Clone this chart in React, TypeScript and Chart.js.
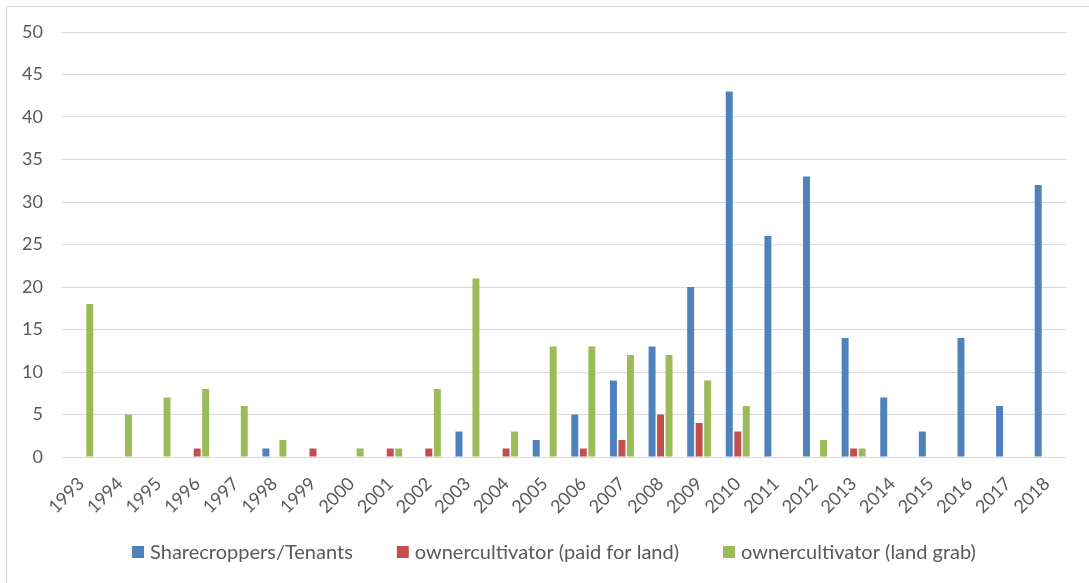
import React, { useEffect, useRef } from "react";
import { Chart, registerables } from "chart.js";

Chart.register(...registerables);

const years = [
  "1993", "1994", "1995", "1996", "1997", "1998", "1999", "2000", "2001", "2002",
  "2003", "2004", "2005", "2006", "2007", "2008", "2009", "2010", "2011", "2012",
  "2013", "2014", "2015", "2016", "2017", "2018",
];

const sharecroppers = [0, 0, 0, 0, 0, 1, 0, 0, 0, 0, 3, 0, 2, 5, 9, 13, 20, 43, 26, 33, 14, 7, 3, 14, 6, 32];
const paidForLand = [0, 0, 0, 1, 0, 0, 1, 0, 1, 1, 0, 1, 0, 1, 2, 5, 4, 3, 0, 0, 1, 0, 0, 0, 0, 0];
const landGrab = [18, 5, 7, 8, 6, 2, 0, 1, 1, 8, 21, 3, 13, 13, 12, 12, 9, 6, 0, 2, 1, 0, 0, 0, 0, 0];

const seriesNames = [
  "Sharecroppers/Tenants",
  "ownercultivator (paid for land)",
  "ownercultivator (land grab)",
];
const seriesColors = ["#4f81bd", "#c0504d", "#9bbb59"];

const yTicks = { min: 0, max: 50, step: 5 };

const FONT = "Lato, 'Open Sans', sans-serif";
const TEXT = "#595959";

const legendPlugin = {
  id: "bottomLegend",
  afterDraw(chart: any) {
    const ctx = chart.ctx;
    ctx.save();
    ctx.font = `20px ${FONT}`;
    ctx.fillStyle = TEXT;
    ctx.textBaseline = "middle";
    ctx.textAlign = "left";
    const box = 12;
    const gapText = 6;
    const gapItem = 44;
    const items = chart.data.datasets.map((d: any) => ({
      label: d.label,
      color: d.backgroundColor,
      w: box + gapText + ctx.measureText(d.label).width,
    }));
    const total = items.reduce((a: number, it: any) => a + it.w, 0) + gapItem * (items.length - 1);
    const cx = 547;
    const cy = 545;
    let x = cx - total / 2;
    for (const it of items) {
      ctx.fillStyle = it.color;
      ctx.fillRect(x, cy - box / 2, box, box);
      ctx.fillStyle = TEXT;
      ctx.fillText(it.label, x + box + gapText, cy + 1);
      x += it.w + gapItem;
    }
    ctx.restore();
  },
};

export default function App() {
  const ref = useRef<HTMLCanvasElement | null>(null);

  useEffect(() => {
    if (!ref.current) return;
    const chart = new Chart(ref.current, {
      type: "bar",
      data: {
        labels: years,
        datasets: [
          { label: seriesNames[0], data: sharecroppers, backgroundColor: seriesColors[0] },
          { label: seriesNames[1], data: paidForLand, backgroundColor: seriesColors[1] },
          { label: seriesNames[2], data: landGrab, backgroundColor: seriesColors[2] },
        ].map((d) => ({ ...d, categoryPercentage: 0.66, barPercentage: 0.82 })),
      },
      options: {
        animation: false,
        responsive: false,
        maintainAspectRatio: false,
        layout: { padding: { left: 0, right: 23, top: 25, bottom: 50 } },
        plugins: {
          tooltip: { enabled: false },
          legend: { display: false },
        },
        scales: {
          x: {
            grid: { display: false, drawTicks: false },
            border: { display: false },
            ticks: {
              minRotation: 45,
              maxRotation: 45,
              autoSkip: false,
              color: TEXT,
              padding: 16,
              font: { family: FONT, size: 18 },
            },
            afterFit: (s: any) => {
              s.height = 76;
            },
          },
          y: {
            min: yTicks.min,
            max: yTicks.max,
            grid: { color: "#d9d9d9", lineWidth: 1, drawTicks: false },
            border: { display: false },
            ticks: {
              stepSize: yTicks.step,
              color: TEXT,
              padding: 19,
              font: { family: FONT, size: 18 },
            },
            afterFit: (s: any) => {
              s.width = 55;
              s.paddingTop = 0;
              s.paddingBottom = 0;
            },
          },
        },
      },
      plugins: [legendPlugin],
    });
    return () => chart.destroy();
  }, []);

  return (
    <div style={{ position: "fixed", left: 0, top: 0, width: 1089, height: 583, overflow: "hidden", background: "#fff" }}>
      <div
        style={{
          position: "absolute",
          left: 6,
          top: 6,
          width: 1100,
          height: 620,
          border: "1px solid #d9d9d9",
          boxSizing: "border-box",
        }}
      >
        <canvas ref={ref} width={1082} height={576} style={{ display: "block" }} />
      </div>
    </div>
  );
}
